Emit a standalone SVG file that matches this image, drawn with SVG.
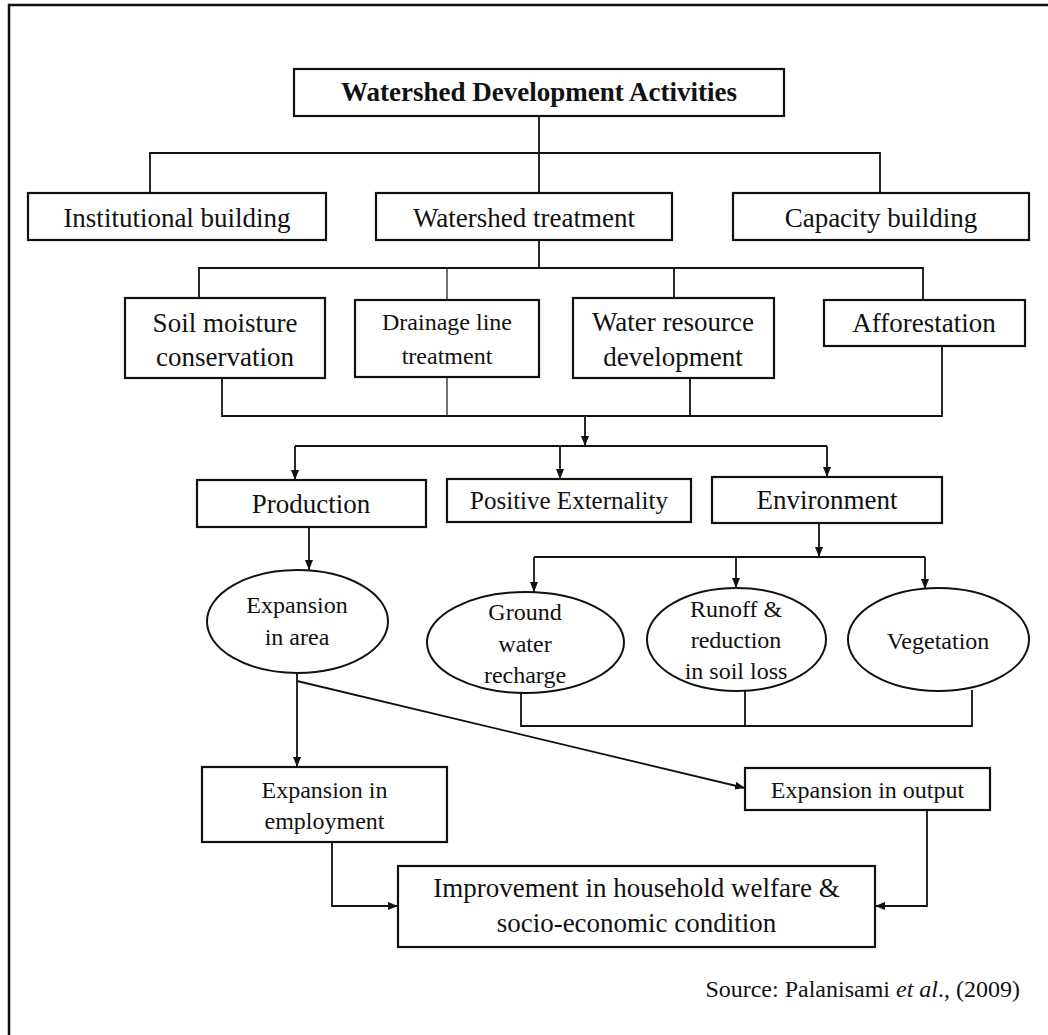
<svg xmlns="http://www.w3.org/2000/svg" width="1048" height="1035" viewBox="0 0 1048 1035">
<style>
  .box { fill: #fff; stroke: #111; stroke-width: 2.2; }
  .ell { fill: #fff; stroke: #111; stroke-width: 2; }
  .ln { fill: none; stroke: #111; stroke-width: 1.8; }
  .thin { fill: none; stroke: #111; stroke-width: 1.2; }
  text { font-family: "Liberation Serif", "Times New Roman", serif; fill: #111; text-anchor: middle; }
  .t27 { font-size: 27px; }
  .t25 { font-size: 25px; }
  .t24 { font-size: 24px; }
  .bold { font-weight: bold; }
</style>
<defs>
  <marker id="arr" markerUnits="userSpaceOnUse" markerWidth="11" markerHeight="9" refX="10" refY="4" orient="auto">
    <path d="M0,0 L10,4 L0,8 z" fill="#111"/>
  </marker>
</defs>
<rect x="0" y="0" width="1048" height="1035" fill="#fff"/>
<rect x="9" y="5" width="1200" height="1200" fill="none" stroke="#111" stroke-width="2.5"/>

<g id="connectors">
  <path class="ln" d="M539,116 V193 M150,193 V153 H880 V193"/>
  <path class="ln" d="M539,240 V268 M199,298 V268 H923 V299 M674,268 V298"/>
  <path class="thin" d="M447,268 V300"/>
  <path class="ln" d="M222,378 V416 H942 V346 M690,378 V416"/>
  <path class="thin" d="M447,377 V416"/>
  <path class="ln" d="M585,416 V446" marker-end="url(#arr)"/>
  <path class="ln" d="M295,446 H827"/>
  <path class="ln" d="M295,446 V480" marker-end="url(#arr)"/>
  <path class="ln" d="M560,446 V479" marker-end="url(#arr)"/>
  <path class="ln" d="M827,446 V477" marker-end="url(#arr)"/>
  <path class="ln" d="M309,527 V570" marker-end="url(#arr)"/>
  <path class="ln" d="M819,523 V557" marker-end="url(#arr)"/>
  <path class="ln" d="M534,557 H925"/>
  <path class="ln" d="M534,557 V592" marker-end="url(#arr)"/>
  <path class="ln" d="M736,557 V588" marker-end="url(#arr)"/>
  <path class="ln" d="M925,557 V589" marker-end="url(#arr)"/>
  <path class="ln" d="M521,693 V726 H972 V690 M745,691 V726"/>
  <path class="ln" d="M297,673 V767" marker-end="url(#arr)"/>
  <path class="ln" d="M297,681 L745,788" marker-end="url(#arr)"/>
  <path class="ln" d="M332,842 V906 H398" marker-end="url(#arr)"/>
  <path class="ln" d="M927,810 V906 H875" marker-end="url(#arr)"/>
</g>

<g id="n-wda">
  <rect class="box" x="294" y="69" width="490" height="47"/>
  <text class="t27 bold" x="539" y="101">Watershed Development Activities</text>
</g>
<g id="n-inst">
  <rect class="box" x="28" y="193" width="298" height="47"/>
  <text class="t27" x="177" y="227">Institutional building</text>
</g>
<g id="n-wt">
  <rect class="box" x="376" y="193" width="296" height="47"/>
  <text class="t27" x="524" y="227">Watershed treatment</text>
</g>
<g id="n-cap">
  <rect class="box" x="733" y="193" width="296" height="47"/>
  <text class="t27" x="881" y="227">Capacity building</text>
</g>
<g id="n-soil">
  <rect class="box" x="125" y="298" width="200" height="80"/>
  <text class="t27" x="225" y="332">Soil moisture</text>
  <text class="t27" x="225" y="366">conservation</text>
</g>
<g id="n-drain">
  <rect class="box" x="355" y="300" width="184" height="77"/>
  <text class="t24" x="447" y="330">Drainage line</text>
  <text class="t24" x="447" y="364">treatment</text>
</g>
<g id="n-water">
  <rect class="box" x="573" y="298" width="201" height="80"/>
  <text class="t27" x="673" y="331">Water resource</text>
  <text class="t27" x="673" y="366">development</text>
</g>
<g id="n-affor">
  <rect class="box" x="824" y="300" width="201" height="46"/>
  <text class="t27" x="924" y="332">Afforestation</text>
</g>
<g id="n-prod">
  <rect class="box" x="197" y="480" width="229" height="47"/>
  <text class="t27" x="311" y="513">Production</text>
</g>
<g id="n-posext">
  <rect class="box" x="447" y="479" width="244" height="43"/>
  <text class="t25" x="569" y="509">Positive Externality</text>
</g>
<g id="n-env">
  <rect class="box" x="712" y="477" width="230" height="46"/>
  <text class="t27" x="827" y="509">Environment</text>
</g>
<g id="n-exparea">
  <ellipse class="ell" cx="297.5" cy="621.5" rx="90.5" ry="51.5"/>
  <text class="t24" x="297" y="613">Expansion</text>
  <text class="t24" x="297" y="645">in area</text>
</g>
<g id="n-ground">
  <ellipse class="ell" cx="525.5" cy="642.5" rx="98.5" ry="50.5"/>
  <text class="t24" x="525" y="620">Ground</text>
  <text class="t24" x="525" y="652">water</text>
  <text class="t24" x="525" y="683">recharge</text>
</g>
<g id="n-runoff">
  <ellipse class="ell" cx="736.5" cy="639.5" rx="89.5" ry="51.5"/>
  <text class="t24" x="736" y="617">Runoff &amp;</text>
  <text class="t24" x="736" y="648">reduction</text>
  <text class="t24" x="736" y="679">in soil loss</text>
</g>
<g id="n-veg">
  <ellipse class="ell" cx="938.5" cy="639.5" rx="90.5" ry="51.5"/>
  <text class="t24" x="938" y="649">Vegetation</text>
</g>
<g id="n-employ">
  <rect class="box" x="202" y="767" width="245" height="75"/>
  <text class="t24" x="324.5" y="798">Expansion in</text>
  <text class="t24" x="324.5" y="829">employment</text>
</g>
<g id="n-output">
  <rect class="box" x="745" y="768" width="245" height="42"/>
  <text class="t24" x="867.5" y="798">Expansion in output</text>
</g>
<g id="n-improve">
  <rect class="box" x="398" y="866" width="477" height="81"/>
  <text class="t27" x="636.5" y="897">Improvement in household welfare &amp;</text>
  <text class="t27" x="636.5" y="932">socio-economic condition</text>
</g>
<text font-size="24" x="1020" y="997" style="text-anchor:end">Source: Palanisami <tspan font-style="italic">et al</tspan>., (2009)</text>
</svg>
